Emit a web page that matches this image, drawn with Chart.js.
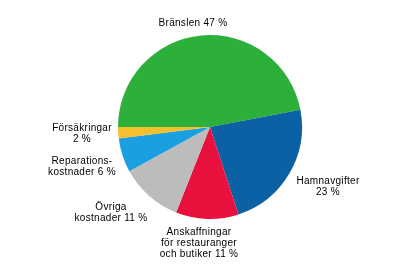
<!DOCTYPE html>
<html>
<head>
<meta charset="utf-8">
<script src="https://cdn.jsdelivr.net/npm/chart.js@4"></script>
<style>
    html, body { margin: 0; padding: 0; background: #fff; }
    #wrap { width: 419px; height: 264px; position: relative; }
</style>
</head>
<body>
<div id="wrap"><canvas id="chart" width="419" height="264"></canvas></div>
<script>
const categories = ['Bränslen', 'Hamnavgifter', 'Anskaffningar för restauranger och butiker', 'Övriga kostnader', 'Reparationskostnader', 'Försäkringar'];
const shares = [47, 23, 11, 11, 6, 2];
const sliceColors = ['#2db03a', '#0c60a4', '#e8103c', '#bcbcbc', '#1aa0e0', '#f5c030'];

// label lines, text only; placed beside each slice
const labelLines = [
    ['Bränslen 47 %'],
    ['Hamnavgifter', '23 %'],
    ['Anskaffningar', 'för restauranger', 'och butiker 11 %'],
    ['Övriga', 'kostnader 11 %'],
    ['Reparations-', 'kostnader 6 %'],
    ['Försäkringar', '2 %']
];
const labelSpots = [[193, 23], [328, 181], [199, 232], [111, 207], [82, 161], [82, 128]];

const labelPlugin = {
    id: 'sliceLabels',
    afterDraw(chart) {
        const ctx = chart.ctx;
        ctx.save();
        ctx.font = '10px "Liberation Sans", Arial, sans-serif';
        ctx.letterSpacing = '0.3px';
        ctx.fillStyle = '#000';
        ctx.textAlign = 'center';
        ctx.textBaseline = 'middle';
        labelLines.forEach((lines, i) => {
            const [x, y] = labelSpots[i];
            lines.forEach((line, j) => ctx.fillText(line, x, y + j * 11));
        });
        ctx.restore();
    }
};

new Chart(document.getElementById('chart').getContext('2d'), {
    type: 'pie',
    data: {
        labels: categories,
        datasets: [{
            data: shares,
            backgroundColor: sliceColors,
            borderWidth: 0
        }]
    },
    options: {
        responsive: false,
        animation: false,
        rotation: -90,
        layout: { padding: { left: 118, right: 117, top: 35, bottom: 45 } },
        plugins: {
            legend: { display: false },
            tooltip: { enabled: false }
        }
    },
    plugins: [labelPlugin]
});
</script>
</body>
</html>
